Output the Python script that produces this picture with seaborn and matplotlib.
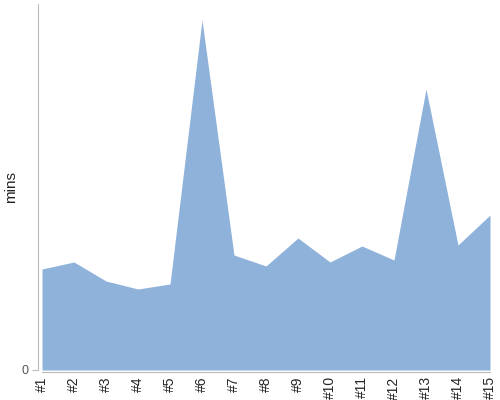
import pandas as pd
import numpy as np
import matplotlib
matplotlib.use('Agg')
import matplotlib.pyplot as plt
import seaborn as sns

labels = ['#1', '#2', '#3', '#4', '#5', '#6', '#7', '#8', '#9', '#10',
          '#11', '#12', '#13', '#14', '#15']
mins = [101, 108, 89, 81, 86, 350, 115, 104, 132, 108, 124, 110, 281, 125, 155]

df = pd.DataFrame({'run': labels, 'mins': mins})
df['pos'] = np.arange(len(df))

sns.set_style('white')
plt.rcParams['font.family'] = ['Liberation Sans', 'DejaVu Sans']

fig = plt.figure(figsize=(5, 4), dpi=100)
ax = fig.add_axes([0.076, 0.075, 0.904, 0.915])

sns.lineplot(data=df, x='pos', y='mins', ax=ax, linewidth=0, color='#8fb2db')
ax.fill_between(df['pos'], 0, df['mins'], color='#8fb2db', linewidth=0)

ax.set_xlim(-0.125, 14)
ax.set_ylim(0, 366)
ax.set_xticks(df['pos'])
ax.set_xticklabels(df['run'], fontsize=6)
ax.set_yticks([0])
ax.set_yticklabels(['0'], fontsize=9, color='#555555')
ax.set_xlabel('')
ax.set_ylabel('mins', fontsize=11, color='#222222', labelpad=2)

for s in ['top', 'right']:
    ax.spines[s].set_visible(False)
ax.spines['left'].set_color('#bbbbbb')
ax.spines['bottom'].set_color('#bbbbbb')
ax.spines['bottom'].set_position(('outward', 1.5))
ax.spines['bottom'].set_bounds(0, 14)
ax.tick_params(axis='x', length=2, width=0.8, color='#bbbbbb', pad=1,
               labelrotation=90)
ax.tick_params(axis='y', length=4, width=0.8, color='#bbbbbb', left=True, pad=3)
for t in ax.get_xticklabels():
    t.set_va('top')
    t.set_ha('center')

fig.savefig('out.png', dpi=100)
